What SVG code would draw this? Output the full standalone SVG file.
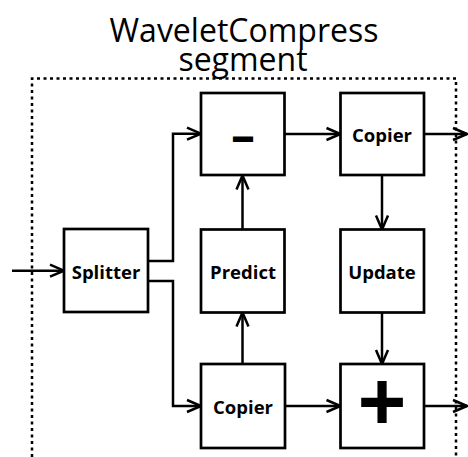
<svg xmlns="http://www.w3.org/2000/svg" width="468" height="457" viewBox="0 0 468 457">
  <style>
    .box { fill: #ffffff; stroke: #000000; stroke-width: 2.7; }
    .wire { fill: none; stroke: #000000; stroke-width: 2.5; marker-end: url(#chev); }
    .lbl { font-family: "Open Sans", "Liberation Sans", sans-serif; font-weight: bold; font-size: 18.5px; text-anchor: middle; fill: #000000; }
    .op { font-family: "Open Sans", "Liberation Sans", sans-serif; font-weight: bold; text-anchor: middle; fill: #000000; }
    .title { font-family: "Open Sans", "Liberation Sans", sans-serif; font-size: 32px; text-anchor: middle; fill: #000000; }
  </style>
  <defs>
    <marker id="chev" markerUnits="userSpaceOnUse" markerWidth="20" markerHeight="16" viewBox="-16 -8 20 16" refX="0" refY="0" orient="auto">
      <path d="M-14,-6 L0,0 L-14,6" fill="none" stroke="#000000" stroke-width="2.5"/>
    </marker>
  </defs>

  <!-- segment heading, two lines -->
  <g id="heading">
    <text class="title"><tspan x="244" y="42">WaveletCompress</tspan><tspan x="243" y="71">segment</tspan></text>
  </g>

  <!-- segment boundary (open at the bottom) -->
  <path d="M32,457 V78.5 H456 V457" fill="none" stroke="#000000" stroke-width="2.5" stroke-dasharray="3 3.5"/>

  <!-- connectors -->
  <g id="connectors">
    <path class="wire" d="M12,270.7 H64"/>
    <path class="wire" d="M148,261 H173 V133.7 H201"/>
    <path class="wire" d="M148,281 H173 V406 H201"/>
    <path class="wire" d="M284.5,134 H340.5"/>
    <path class="wire" d="M424,134 H467"/>
    <path class="wire" d="M382,175 V229.5"/>
    <path class="wire" d="M382,312.5 V364"/>
    <path class="wire" d="M285,406 H340.5"/>
    <path class="wire" d="M424,406 H467"/>
    <path class="wire" d="M242.5,364 V312.5"/>
    <path class="wire" d="M242.5,229.5 V175.5"/>
  </g>

  <g id="splitter">
    <rect class="box" x="64" y="229" width="84" height="83"/>
    <text class="lbl" x="106" y="279">Splitter</text>
  </g>

  <g id="subtract">
    <rect class="box" x="201" y="93" width="83.5" height="82"/>
    <text class="op" x="243" y="152" font-size="48">–</text>
  </g>

  <g id="copier-top">
    <rect class="box" x="340.5" y="93" width="83.5" height="82"/>
    <text class="lbl" x="382" y="142">Copier</text>
  </g>

  <g id="predict">
    <rect class="box" x="201" y="229.5" width="83.5" height="83"/>
    <text class="lbl" x="243" y="279">Predict</text>
  </g>

  <g id="update">
    <rect class="box" x="340.5" y="229.5" width="83.5" height="83"/>
    <text class="lbl" x="382" y="279">Update</text>
  </g>

  <g id="copier-bottom">
    <rect class="box" x="201" y="364" width="84" height="84"/>
    <text class="lbl" x="243" y="414">Copier</text>
  </g>

  <g id="add">
    <rect class="box" x="340.5" y="364" width="83.5" height="84"/>
    <text class="op" x="382" y="433" font-size="86">+</text>
  </g>
</svg>
